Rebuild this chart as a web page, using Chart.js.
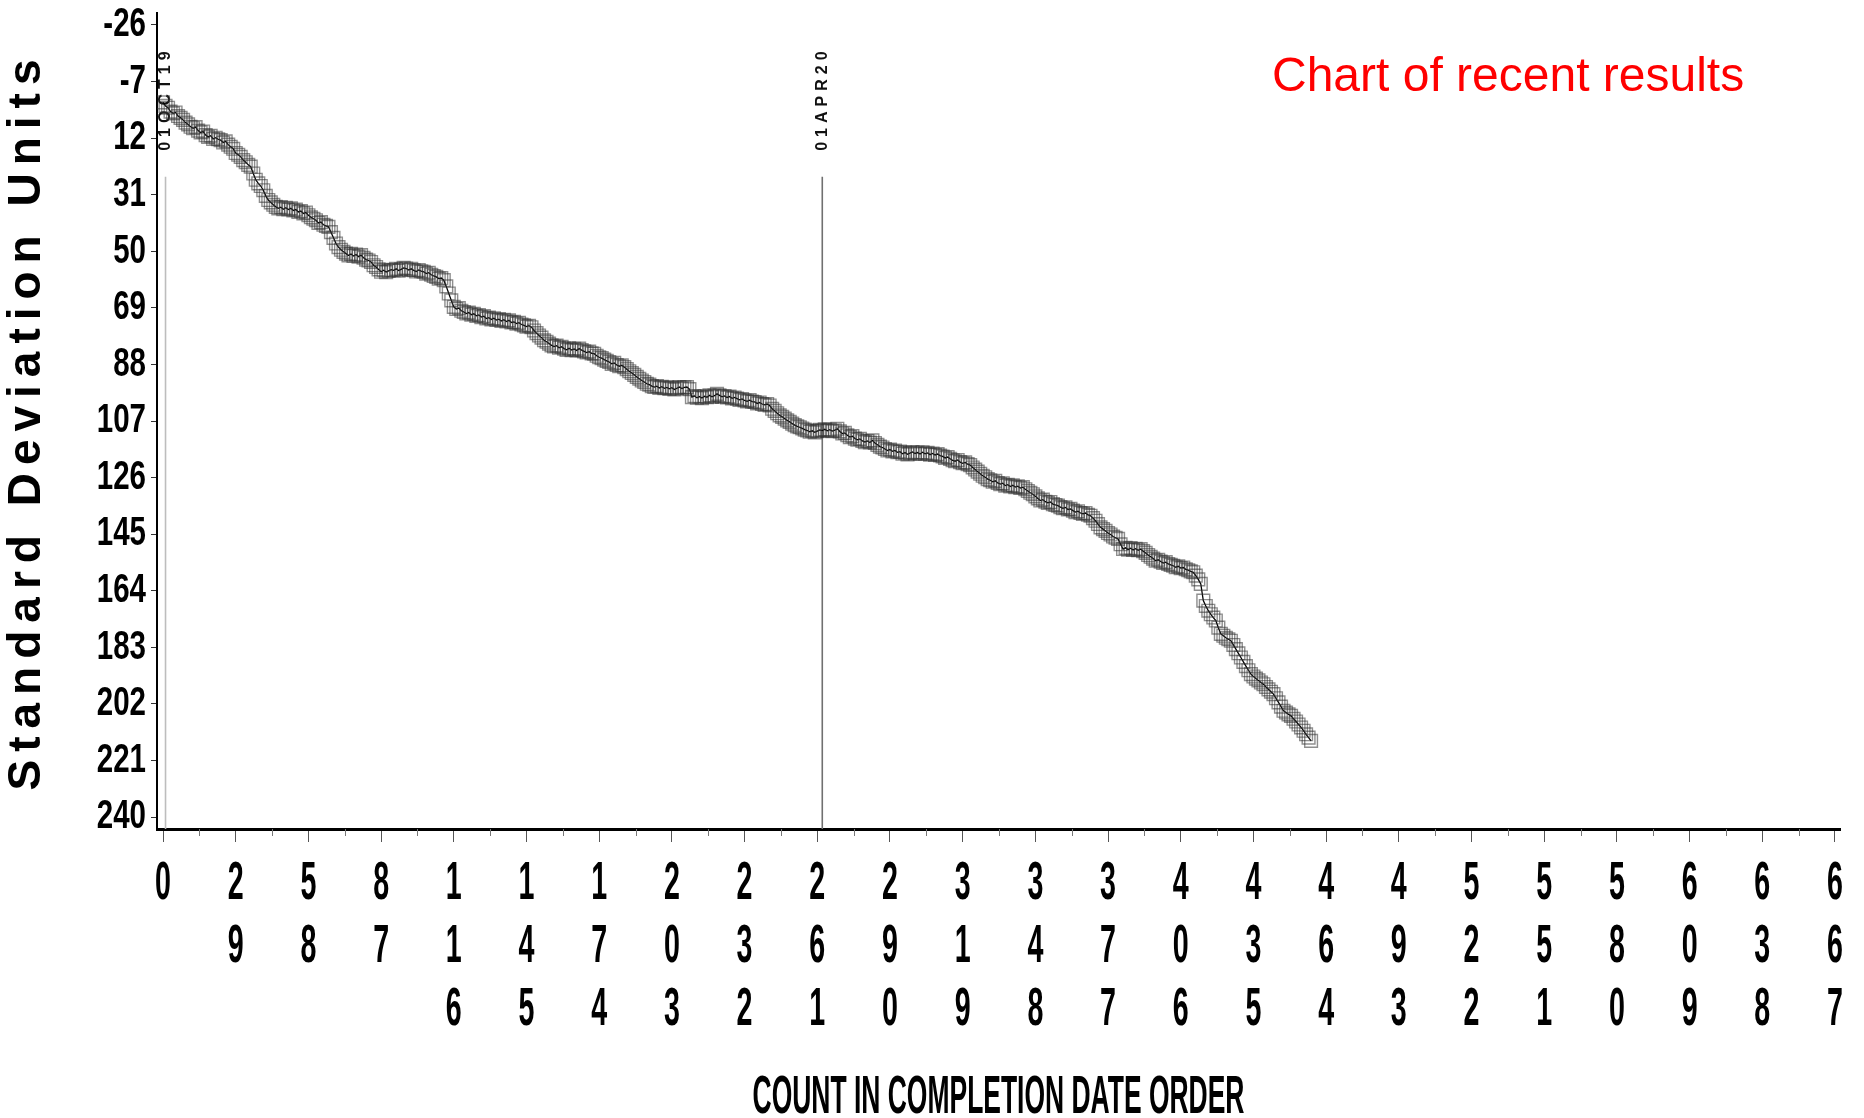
<!DOCTYPE html>
<html>
<head>
<meta charset="utf-8">
<script src="https://cdn.jsdelivr.net/npm/chart.js@4/dist/chart.umd.min.js"></script>
<style>
  html, body { margin: 0; padding: 0; background: #fff; }
  canvas { display: block; }
</style>
</head>
<body>
<canvas id="c" width="1864" height="1118"></canvas>
<script>
// ---------------- data ----------------
const sdValues = [
  0.0, 1.2, 1.8, 3.1, 3.7, 3.4, 4.6, 5.2, 5.9, 6.8,
  7.4, 8.2, 8.7, 8.3, 9.5, 10.1, 9.8, 11.0, 11.6, 11.2,
  12.3, 11.9, 12.4, 12.7, 13.5, 13.1, 14.2, 14.9, 15.6, 17.0,
  17.6, 18.3, 19.4, 20.1, 21.0, 21.6, 23.9, 26.0, 27.2, 28.1,
  29.5, 31.4, 32.8, 33.6, 34.4, 35.1, 35.6, 35.2, 35.9, 35.4,
  36.0, 35.6, 36.3, 36.0, 36.8, 36.5, 37.3, 37.0, 37.9, 38.6,
  39.1, 39.6, 40.5, 40.2, 41.1, 41.5, 41.8, 43.6, 45.5, 47.4,
  48.6, 49.5, 50.2, 50.8, 51.4, 50.9, 51.6, 51.1, 51.8, 51.3,
  52.2, 52.8, 53.1, 53.6, 54.7, 55.3, 56.1, 56.9, 56.4, 57.0,
  56.6, 56.2, 56.4, 55.9, 56.5, 56.1, 55.6, 55.8, 56.3, 55.9,
  56.4, 56.8, 56.3, 56.7, 56.9, 57.5, 57.2, 57.9, 58.3, 58.6,
  59.2, 59.0, 59.7, 61.8, 64.2, 66.5, 68.7, 69.4, 69.1, 70.0,
  70.4, 70.9, 70.6, 71.3, 71.0, 71.7, 71.4, 72.1, 71.8, 72.6,
  72.3, 72.9, 72.5, 73.1, 72.8, 73.4, 73.0, 73.6, 73.2, 73.9,
  73.7, 74.3, 74.0, 74.6, 74.9, 75.3, 75.0, 75.5, 76.6, 77.5,
  78.3, 79.0, 79.9, 80.4, 81.0, 81.6, 82.0, 81.7, 82.4, 82.1,
  82.7, 83.1, 82.6, 83.2, 82.8, 83.3, 82.7, 83.2, 83.6, 84.0,
  83.7, 84.3, 84.4, 85.1, 85.6, 85.9, 86.4, 86.8, 87.2, 87.8,
  87.5, 88.2, 88.6, 88.3, 88.9, 89.6, 90.3, 90.9, 91.5, 92.2,
  92.8, 93.4, 93.9, 94.5, 94.8, 95.3, 95.6, 95.3, 95.9, 95.5,
  96.0, 95.7, 96.2, 95.8, 96.4, 96.0, 95.6, 96.1, 95.7, 95.6,
  96.3, 99.0, 98.6, 99.2, 98.8, 99.3, 98.7, 99.0, 98.4, 98.9,
  98.5, 97.9, 98.4, 98.9, 98.6, 99.1, 98.8, 99.4, 99.1, 99.5,
  99.9, 99.6, 100.1, 100.4, 100.0, 100.5, 100.6, 101.1, 100.8, 101.3,
  101.6, 101.3, 101.8, 102.9, 103.6, 104.4, 105.1, 105.6, 106.2, 106.8,
  107.3, 107.9, 108.4, 108.8, 109.1, 109.5, 109.9, 110.2, 110.6, 110.3,
  110.8, 110.4, 110.0, 110.2, 109.8, 110.3, 109.9, 110.4, 110.1, 109.6,
  110.5, 111.2, 111.0, 111.8, 112.4, 112.1, 112.9, 113.3, 113.0, 113.7,
  114.1, 113.7, 114.2, 113.5, 114.4, 115.0, 115.6, 115.9, 116.4, 116.9,
  116.6, 117.2, 116.9, 117.5, 117.3, 118.0, 117.6, 118.2, 117.8, 117.4,
  117.9, 117.6, 118.1, 117.5, 118.0, 117.7, 118.3, 117.9, 118.4, 118.1,
  118.6, 118.9, 119.4, 119.1, 119.7, 120.2, 120.5, 120.1, 120.8, 121.2,
  120.9, 121.5, 121.8, 122.6, 123.3, 124.0, 124.7, 125.4, 125.9, 126.5,
  126.9, 127.4, 127.1, 127.8, 128.2, 127.9, 128.7, 128.4, 129.0, 128.6,
  129.2, 128.9, 129.5, 129.2, 129.9, 130.5, 131.1, 131.6, 132.3, 133.0,
  133.7, 133.4, 134.1, 134.5, 134.2, 134.9, 135.2, 135.4, 135.9, 136.3,
  136.0, 136.7, 136.5, 137.1, 137.6, 137.3, 137.9, 138.2, 137.9, 138.5,
  138.8, 139.6, 140.5, 141.6, 142.7, 143.3, 143.9, 144.6, 145.1, 145.8,
  146.2, 146.6, 148.4, 150.0, 149.6, 150.2, 149.7, 150.3, 149.9, 150.4,
  150.0, 150.7, 151.3, 152.0, 152.6, 153.2, 153.9, 153.6, 154.2, 154.7,
  154.4, 155.0, 155.3, 155.6, 156.1, 155.8, 156.4, 156.2, 156.8, 157.1,
  157.5, 157.8, 158.9, 160.2, 161.7, 167.3, 169.1, 170.7, 171.9, 173.0,
  174.0, 176.4, 178.5, 179.1, 179.8, 180.3, 180.8, 182.2, 183.6, 185.0,
  186.4, 187.9, 189.3, 190.7, 192.0, 192.8, 193.5, 194.1, 194.8, 195.4,
  196.3, 197.1, 197.9, 198.7, 200.1, 201.5, 202.9, 204.3, 204.9, 205.5,
  206.0, 207.0, 207.9, 208.9, 209.9, 211.0, 212.2, 213.3, 214.4
];
const firstCount = 0;
const xTickValues = [0, 29, 58, 87, 116, 145, 174, 203, 232, 261, 290, 319, 348, 377, 406, 435, 464, 493, 522, 551, 580, 609, 638, 667];
const yTickValues = [-26, -7, 12, 31, 50, 69, 88, 107, 126, 145, 164, 183, 202, 221, 240];
const refCounts = [1, 263];
const refLabels = ['01OCT19', '01APR20'];
const xTitle = 'COUNT IN COMPLETION DATE ORDER';
const yTitle = 'Standard Deviation Units';
const noteText = 'Chart of recent results';

// ---------------- styles ----------------
const FONT = "'Liberation Sans', Arial, Helvetica, sans-serif";
const refColors = ['#bdbdbd', '#707070'];
const refLineTopValue = 25;

const points = sdValues.map((v, i) => ({ x: firstCount + i, y: v }));

// horizontally condense a scale's labels / title (drawn by Chart.js)
function condenseLabels(scale, sx) {
  const orig = scale.drawLabels;
  scale._computeLabelArea = () => undefined;
  scale.drawLabels = function (chartArea) {
    const items = this.getLabelItems(chartArea);
    const saved = items.map(it => it.options.translation);
    items.forEach(it => { it.options.translation = [it.options.translation[0] / sx, it.options.translation[1]]; });
    const ctx = this.ctx;
    ctx.save();
    ctx.scale(sx, 1);
    orig.call(this, chartArea);
    ctx.restore();
    items.forEach((it, i) => { it.options.translation = saved[i]; });
  };
}
function condenseTitle(scale, sx) {
  const orig = scale.drawTitle;
  scale.drawTitle = function () {
    const ctx = this.ctx;
    const cx = (this.left + this.right) / 2;
    ctx.save();
    ctx.translate(cx, 0); ctx.scale(sx, 1); ctx.translate(-cx, 0);
    orig.call(this);
    ctx.restore();
  };
}
function spacedTitle(scale, spacing) {
  const orig = scale.drawTitle;
  scale.drawTitle = function () {
    const ctx = this.ctx;
    ctx.save();
    ctx.letterSpacing = spacing;
    orig.call(this);
    ctx.restore();
  };
}

const patchPlugin = {
  id: 'patch',
  afterUpdate(chart) {
    const x = chart.scales.x, y = chart.scales.y;
    if (!x._patched) { condenseLabels(x, 0.53); condenseTitle(x, 0.49); x._patched = true; }
    if (!y._patched) { condenseLabels(y, 0.72); spacedTitle(y, '8px'); y._patched = true; }
  }
};

const decorPlugin = {
  id: 'decor',
  beforeDatasetsDraw(chart) {
    const { ctx, chartArea } = chart;
    const xs = chart.scales.x, ys = chart.scales.y;
    const top = ys.getPixelForValue(refLineTopValue);
    refCounts.forEach((c, i) => {
      const px = xs.getPixelForValue(c);
      ctx.save();
      ctx.strokeStyle = refColors[i];
      ctx.lineWidth = 1.6;
      ctx.beginPath();
      ctx.moveTo(px, top);
      ctx.lineTo(px, chartArea.bottom);
      ctx.stroke();
      ctx.translate(px, top - 26);
      ctx.rotate(-Math.PI / 2);
      ctx.font = 'bold 16px ' + FONT;
      ctx.letterSpacing = '5px';
      ctx.fillStyle = '#111';
      ctx.textAlign = 'left';
      ctx.textBaseline = 'middle';
      ctx.fillText(refLabels[i], 0, 0);
      ctx.restore();
    });
  },
  afterDraw(chart) {
    const { ctx, chartArea } = chart;
    const xs = chart.scales.x;
    // minor ticks between labelled ticks
    ctx.save();
    ctx.strokeStyle = '#777';
    ctx.lineWidth = 1;
    for (let i = 0; i < xTickValues.length - 1; i++) {
      const px = Math.round(xs.getPixelForValue((xTickValues[i] + xTickValues[i + 1]) / 2)) + 0.5;
      ctx.beginPath();
      ctx.moveTo(px, chartArea.bottom);
      ctx.lineTo(px, chartArea.bottom + 7);
      ctx.stroke();
    }
    ctx.restore();
    // red note
    ctx.save();
    ctx.font = '48px ' + FONT;
    ctx.fillStyle = '#ff0000';
    ctx.textAlign = 'left';
    ctx.textBaseline = 'alphabetic';
    ctx.fillText(noteText, 1272, 91);
    ctx.restore();
  }
};

new Chart(document.getElementById('c'), {
  type: 'line',
  data: {
    datasets: [{
      data: points,
      borderColor: '#000',
      borderWidth: 1.3,
      pointStyle: 'rect',
      pointRadius: 9,
      pointBorderWidth: 1.4,
      pointBorderColor: 'rgba(50,50,50,0.55)',
      pointBackgroundColor: 'rgba(0,0,0,0)',
      tension: 0,
      fill: false
    }]
  },
  options: {
    responsive: false,
    devicePixelRatio: 1,
    animation: false,
    layout: { padding: { top: 13, right: 24, bottom: 0, left: 0 } },
    plugins: { legend: { display: false }, tooltip: { enabled: false }, title: { display: false } },
    scales: {
      x: {
        type: 'linear',
        min: -2.4,
        max: 669,
        afterBuildTicks: s => { s.ticks = xTickValues.map(v => ({ value: v })); },
        afterFit: s => { s.height = 289; s.paddingLeft = 0; s.paddingRight = 0; },
        grid: { drawOnChartArea: false, drawTicks: true, tickLength: 13, tickColor: '#555', tickWidth: 1 },
        border: { display: true, color: '#000', width: 3 },
        ticks: {
          autoSkip: false, maxRotation: 0, minRotation: 0, padding: 11,
          color: '#000',
          font: { family: FONT, size: 54, weight: 'bold', lineHeight: '63px' },
          callback: v => String(v).split('')
        },
        title: {
          display: true, text: xTitle, color: '#000',
          font: { family: FONT, size: 54, weight: 'bold', lineHeight: 0.75 },
          padding: { top: 0, bottom: 0 }
        }
      },
      y: {
        type: 'linear',
        reverse: true,
        min: -30,
        max: 244,
        afterBuildTicks: s => { s.ticks = yTickValues.map(v => ({ value: v })); },
        afterFit: s => { s.width = 157; s.paddingTop = 0; s.paddingBottom = 0; },
        grid: { drawOnChartArea: false, drawTicks: true, tickLength: 6, tickColor: '#333', tickWidth: 1 },
        border: { display: true, color: '#000', width: 2 },
        ticks: {
          autoSkip: false, padding: 5, color: '#000',
          font: { family: FONT, size: 41, weight: 'bold', lineHeight: 1.0 },
          callback: v => String(v)
        },
        title: {
          display: true, text: yTitle, color: '#000',
          font: { family: FONT, size: 46, weight: 'bold', lineHeight: 1.2 },
          padding: { top: 0, bottom: 0 }
        }
      }
    }
  },
  plugins: [patchPlugin, decorPlugin]
});
</script>
</body>
</html>
